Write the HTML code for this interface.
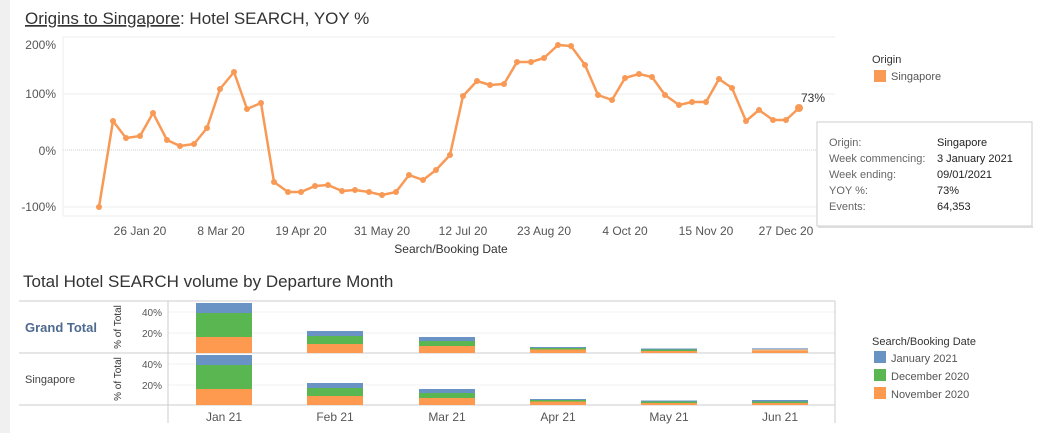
<!DOCTYPE html>
<html><head><meta charset="utf-8"><style>
body{margin:0;width:1046px;height:433px;overflow:hidden;background:#fff;font-family:"Liberation Sans",sans-serif;}
</style></head><body>
<svg width="1046" height="433" xmlns="http://www.w3.org/2000/svg" font-family="Liberation Sans, sans-serif">
<rect x="0" y="0" width="10" height="433" fill="#f0f0f0"/>
<text x="25" y="24" font-size="17" fill="#333"><tspan text-decoration="underline">Origins to Singapore</tspan>: Hotel SEARCH, YOY %</text>
<!-- top plot -->
<line x1="63" y1="37" x2="835" y2="37" stroke="#eee"/>
<line x1="63" y1="94" x2="835" y2="94" stroke="#eee"/>
<line x1="63" y1="207" x2="835" y2="207" stroke="#eee"/>
<line x1="63" y1="150" x2="835" y2="150" stroke="#ccc" stroke-dasharray="1,1"/>
<line x1="63" y1="37" x2="63" y2="216" stroke="#eee"/>
<line x1="63" y1="216" x2="835" y2="216" stroke="#eee"/>
<g font-size="12" fill="#555" text-anchor="end">
<text x="56" y="49">200%</text><text x="56" y="98">100%</text><text x="56" y="155">0%</text><text x="56" y="211">-100%</text>
</g>
<g font-size="12" fill="#555" text-anchor="middle">
<text x="140" y="235">26 Jan 20</text><text x="221" y="235">8 Mar 20</text><text x="301" y="235">19 Apr 20</text><text x="382" y="235">31 May 20</text><text x="463" y="235">12 Jul 20</text><text x="544" y="235">23 Aug 20</text><text x="625" y="235">4 Oct 20</text><text x="706" y="235">15 Nov 20</text><text x="786" y="235">27 Dec 20</text>
</g>
<text x="451" y="253" font-size="12" fill="#333" text-anchor="middle">Search/Booking Date</text>
<polyline fill="none" stroke="#f89a56" stroke-width="2.5" stroke-linejoin="round" points="99,207 113,121 126,138 140,136 153,113 167,140 180,146 194,144 207,128 220,89 234,72 247,109 261,103 274,182 288,192 301,192 315,186 328,185 342,191 355,190 369,192 382,195 396,192 409,175 423,180 436,170 450,155 463,96 477,81 490,85 504,84 517,62 531,62 544,58 558,45 571,46 585,65 598,95 612,100 625,78 639,74 652,77 665,95 679,105 692,102 706,102 719,79 732,88 746,121 759,110 773,120 786,120 799,108"/>
<g fill="#f89a56" id="dots">
</g>
<text x="801" y="102" font-size="12" fill="#333">73%</text>
<text x="872" y="63" font-size="11" fill="#333">Origin</text>
<rect x="874" y="70" width="12" height="12" fill="#f89a56"/>
<text x="891" y="80" font-size="11" fill="#555">Singapore</text>
<rect x="817" y="122" width="215" height="104" fill="#fff" stroke="#ccc"/>
<line x1="818" y1="227" x2="1033" y2="227" stroke="#ddd" stroke-width="2"/>
<g font-size="11" fill="#666">
<text x="829" y="146">Origin:</text><text x="829" y="162">Week commencing:</text><text x="829" y="178">Week ending:</text><text x="829" y="194">YOY %:</text><text x="829" y="210">Events:</text>
</g>
<g font-size="11" fill="#222">
<text x="937" y="146">Singapore</text><text x="937" y="162">3 January 2021</text><text x="937" y="178">09/01/2021</text><text x="937" y="194">73%</text><text x="937" y="210">64,353</text>
</g>
<!-- bottom -->
<text x="23" y="287" font-size="17" fill="#333">Total Hotel SEARCH volume by Departure Month</text>
<g stroke="#f2f2f2"><line x1="168" y1="312" x2="835" y2="312"/><line x1="168" y1="333" x2="835" y2="333"/><line x1="168" y1="364" x2="835" y2="364"/><line x1="168" y1="385" x2="835" y2="385"/></g>
<g stroke="#ccc"><line x1="19" y1="301" x2="835" y2="301"/><line x1="19" y1="353" x2="835" y2="353"/><line x1="19" y1="405" x2="835" y2="405"/><line x1="168" y1="301" x2="168" y2="423"/><line x1="835" y1="301" x2="835" y2="423"/></g>
<text x="25" y="332" font-size="13" font-weight="bold" fill="#4e6a8f">Grand Total</text>
<text x="25" y="383" font-size="11" fill="#444">Singapore</text>
<text transform="translate(121,327) rotate(-90)" font-size="10" fill="#333" text-anchor="middle">% of Total</text>
<text transform="translate(121,379) rotate(-90)" font-size="10" fill="#333" text-anchor="middle">% of Total</text>
<g font-size="10" fill="#555" text-anchor="end"><text x="162" y="316">40%</text><text x="162" y="337">20%</text><text x="162" y="368">40%</text><text x="162" y="389">20%</text></g>
<g id="bars"></g>
<g font-size="12" fill="#555" text-anchor="middle"><text x="224" y="421">Jan 21</text><text x="335" y="421">Feb 21</text><text x="447" y="421">Mar 21</text><text x="558" y="421">Apr 21</text><text x="669" y="421">May 21</text><text x="780" y="421">Jun 21</text></g>
<text x="872" y="345" font-size="11" fill="#333">Search/Booking Date</text>
<rect x="874" y="351" width="12" height="12" fill="#6a93c5"/><text x="891" y="362" font-size="11" fill="#555">January 2021</text>
<rect x="874" y="369" width="12" height="12" fill="#59b651"/><text x="891" y="380" font-size="11" fill="#555">December 2020</text>
<rect x="874" y="387" width="12" height="12" fill="#fd9a4f"/><text x="891" y="398" font-size="11" fill="#555">November 2020</text>
<!-- bars static -->
<g>
<rect x="196" y="303" width="56" height="10" fill="#6a93c5"/><rect x="196" y="313" width="56" height="24" fill="#59b651"/><rect x="196" y="337" width="56" height="16" fill="#fd9a4f"/>
<rect x="307" y="331" width="56" height="5" fill="#6a93c5"/><rect x="307" y="336" width="56" height="8" fill="#59b651"/><rect x="307" y="344" width="56" height="9" fill="#fd9a4f"/>
<rect x="419" y="337" width="56" height="4" fill="#6a93c5"/><rect x="419" y="341" width="56" height="5" fill="#59b651"/><rect x="419" y="346" width="56" height="7" fill="#fd9a4f"/>
<rect x="530" y="347" width="56" height="1" fill="#6a93c5"/><rect x="530" y="348" width="56" height="1.5" fill="#59b651"/><rect x="530" y="349.5" width="56" height="3.5" fill="#fd9a4f"/>
<rect x="641" y="348.5" width="56" height="1" fill="#6a93c5"/><rect x="641" y="349.5" width="56" height="1.5" fill="#59b651"/><rect x="641" y="351" width="56" height="2" fill="#fd9a4f"/>
<rect x="752" y="348" width="56" height="1.5" fill="#9bb8d8"/><rect x="752" y="349.5" width="56" height="1.5" fill="#f5b06f"/><rect x="752" y="351" width="56" height="2" fill="#fd9a4f"/>
</g>
<g transform="translate(0,52)">
<rect x="196" y="303" width="56" height="10" fill="#6a93c5"/><rect x="196" y="313" width="56" height="24" fill="#59b651"/><rect x="196" y="337" width="56" height="16" fill="#fd9a4f"/>
<rect x="307" y="331" width="56" height="5" fill="#6a93c5"/><rect x="307" y="336" width="56" height="8" fill="#59b651"/><rect x="307" y="344" width="56" height="9" fill="#fd9a4f"/>
<rect x="419" y="337" width="56" height="4" fill="#6a93c5"/><rect x="419" y="341" width="56" height="5" fill="#59b651"/><rect x="419" y="346" width="56" height="7" fill="#fd9a4f"/>
<rect x="530" y="347" width="56" height="1" fill="#6a93c5"/><rect x="530" y="348" width="56" height="1.5" fill="#59b651"/><rect x="530" y="349.5" width="56" height="3.5" fill="#fd9a4f"/>
<rect x="641" y="348.5" width="56" height="1" fill="#6a93c5"/><rect x="641" y="349.5" width="56" height="1.5" fill="#59b651"/><rect x="641" y="351" width="56" height="2" fill="#fd9a4f"/>
<rect x="752" y="348" width="56" height="1.5" fill="#6a93c5"/><rect x="752" y="349.5" width="56" height="1.5" fill="#59b651"/><rect x="752" y="351" width="56" height="2" fill="#fd9a4f"/>
</g>
<g fill="#f89a56">
<circle cx="99" cy="207" r="3"/><circle cx="113" cy="121" r="3"/><circle cx="126" cy="138" r="3"/><circle cx="140" cy="136" r="3"/><circle cx="153" cy="113" r="3"/><circle cx="167" cy="140" r="3"/><circle cx="180" cy="146" r="3"/><circle cx="194" cy="144" r="3"/><circle cx="207" cy="128" r="3"/><circle cx="220" cy="89" r="3"/><circle cx="234" cy="72" r="3"/><circle cx="247" cy="109" r="3"/><circle cx="261" cy="103" r="3"/><circle cx="274" cy="182" r="3"/><circle cx="288" cy="192" r="3"/><circle cx="301" cy="192" r="3"/><circle cx="315" cy="186" r="3"/><circle cx="328" cy="185" r="3"/><circle cx="342" cy="191" r="3"/><circle cx="355" cy="190" r="3"/><circle cx="369" cy="192" r="3"/><circle cx="382" cy="195" r="3"/><circle cx="396" cy="192" r="3"/><circle cx="409" cy="175" r="3"/><circle cx="423" cy="180" r="3"/><circle cx="436" cy="170" r="3"/><circle cx="450" cy="155" r="3"/><circle cx="463" cy="96" r="3"/><circle cx="477" cy="81" r="3"/><circle cx="490" cy="85" r="3"/><circle cx="504" cy="84" r="3"/><circle cx="517" cy="62" r="3"/><circle cx="531" cy="62" r="3"/><circle cx="544" cy="58" r="3"/><circle cx="558" cy="45" r="3"/><circle cx="571" cy="46" r="3"/><circle cx="585" cy="65" r="3"/><circle cx="598" cy="95" r="3"/><circle cx="612" cy="100" r="3"/><circle cx="625" cy="78" r="3"/><circle cx="639" cy="74" r="3"/><circle cx="652" cy="77" r="3"/><circle cx="665" cy="95" r="3"/><circle cx="679" cy="105" r="3"/><circle cx="692" cy="102" r="3"/><circle cx="706" cy="102" r="3"/><circle cx="719" cy="79" r="3"/><circle cx="732" cy="88" r="3"/><circle cx="746" cy="121" r="3"/><circle cx="759" cy="110" r="3"/><circle cx="773" cy="120" r="3"/><circle cx="786" cy="120" r="3"/><circle cx="799" cy="108" r="4"/>
</g>
</svg>
</body></html>
